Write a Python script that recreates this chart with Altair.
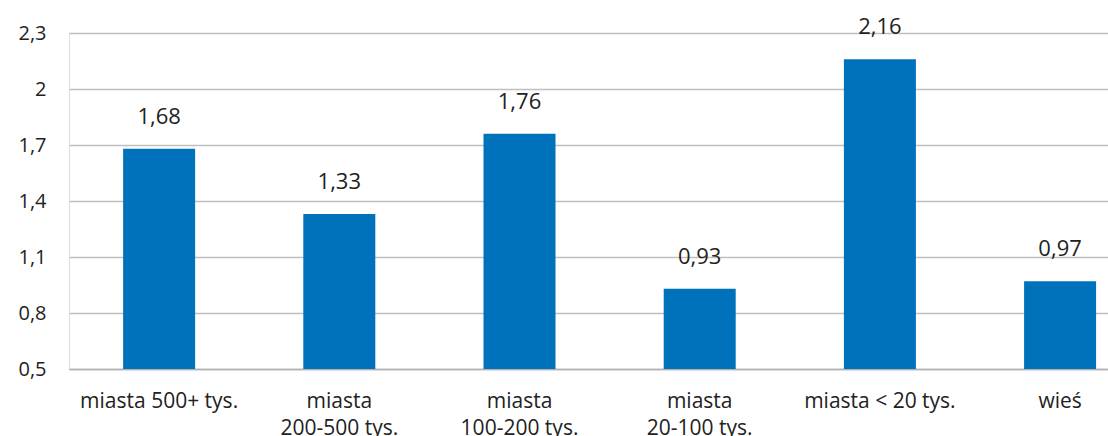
import altair as alt
import pandas as pd

# Categories (line breaks marked with "|") and their values
categories = [
    "miasta 500+ tys.",
    "miasta|200-500 tys.",
    "miasta|100-200 tys.",
    "miasta|20-100 tys.",
    "miasta < 20 tys.",
    "wieś",
]
values = [1.68, 1.33, 1.76, 0.93, 2.16, 0.97]
y_ticks = [0.5, 0.8, 1.1, 1.4, 1.7, 2.0, 2.3]

df = pd.DataFrame({"kategoria": categories, "wartosc": values})

FONT = "Open Sans"
TEXT = "#222222"
BLUE = "#0072BC"
GRID = "#BFBFBF"

x = alt.X(
    "kategoria:N",
    sort=categories,
    title=None,
    scale=alt.Scale(paddingInner=0.6, paddingOuter=0.183, align=0.82),
    axis=alt.Axis(
        labelExpr="split(datum.label, '|')",
        labelAngle=0,
        labelFont=FONT,
        labelFontSize=21,
        labelColor=TEXT,
        labelPadding=21,
        labelLineHeight=27,
        labelBaseline="top",
        labelLimit=300,
        ticks=False,
        domain=True,
        domainColor="#B0B0B0",
        domainWidth=1.5,
        grid=False,
    ),
)

y = alt.Y(
    "wartosc:Q",
    title=None,
    scale=alt.Scale(domain=[0.5, 2.3], nice=False, zero=False, clamp=True),
    axis=alt.Axis(
        values=y_ticks,
        labelExpr="replace(format(datum.value, '.1~f'), '.', ',')",
        labelFont=FONT,
        labelFontSize=20,
        labelColor=TEXT,
        labelPadding=23,
        ticks=False,
        domain=False,
        grid=True,
        gridColor=GRID,
        gridWidth=1.5,
    ),
)

base = alt.Chart(df)

bars = base.mark_bar(color=BLUE, size=72).encode(x=x, y=y, y2=alt.datum(0.5))

labels = (
    base.transform_calculate(
        etykieta="replace(format(datum.wartosc, '.2f'), '.', ',')"
    )
    .mark_text(font=FONT, fontSize=22, color=TEXT, dy=-20, baseline="bottom")
    .encode(x=alt.X("kategoria:N", sort=categories), y="wartosc:Q", text="etykieta:N")
)

chart = (
    alt.layer(bars, labels)
    .properties(
        width=1039,
        height=336,
        autosize=alt.AutoSizeParams(type="none"),
        padding={"left": 69, "top": 33, "right": 0, "bottom": 67},
    )
    .configure_view(stroke=None)
    .configure(background="white")
)

chart.save("out.html", embed_options={"renderer": "svg", "actions": False})
